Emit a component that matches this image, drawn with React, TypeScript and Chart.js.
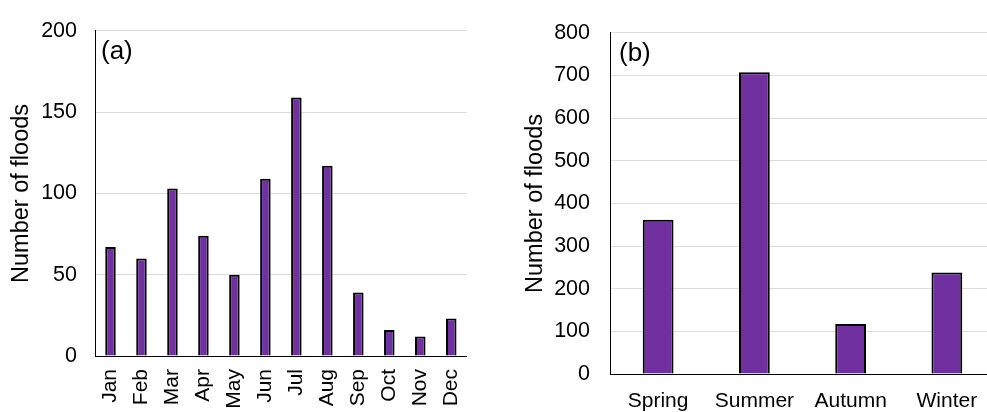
import React, { useEffect, useRef } from "react";
import { Chart, registerables } from "chart.js";

Chart.register(...registerables);

// Monthly flood counts, panel (a)
const months = ["Jan", "Feb", "Mar", "Apr", "May", "Jun", "Jul", "Aug", "Sep", "Oct", "Nov", "Dec"];
const monthlyFloods = [67, 60, 103, 74, 50, 109, 159, 117, 39, 16, 12, 23];
const monthlyAxisMax = 200;
const monthlyAxisStep = 50;

// Seasonal flood counts, panel (b)
const seasons = ["Spring", "Summer", "Autumn", "Winter"];
const seasonalFloods = [362, 708, 117, 238];
const seasonalAxisMax = 800;
const seasonalAxisStep = 100;

const yTitle = "Number of floods";

const FONT = '"Liberation Sans", Arial, Helvetica, sans-serif';
const BAR_FILL = "#7030A0";
const GRID = "#dcdcdc";

// Draws the "(a)" / "(b)" tag inside the top-left of the plot area
const panelLabel = {
  id: "panelLabel",
  afterDraw(chart: any, _args: any, opts: any) {
    const { ctx, chartArea } = chart;
    ctx.save();
    ctx.font = `${opts.size}px ${FONT}`;
    ctx.fillStyle = "#000";
    ctx.textAlign = "left";
    ctx.textBaseline = "middle";
    ctx.fillText(opts.text, chartArea.left + opts.dx, chartArea.top + opts.dy);
    ctx.restore();
  },
};

type PanelSpec = {
  labels: string[];
  values: number[];
  max: number;
  step: number;
  tag: string;
  tagDx: number;
  padding: { left: number; right: number; top: number; bottom: number };
  yWidth: number;
  xHeight: number;
  yTickPad: number;
  xTickPad: number;
  rotate: boolean;
  barPct: number;
};

function makeChart(canvas: HTMLCanvasElement, p: PanelSpec) {
  return new Chart(canvas, {
    type: "bar",
    data: {
      labels: p.labels,
      datasets: [
        {
          data: p.values,
          backgroundColor: BAR_FILL,
          borderColor: "#000",
          borderWidth: 2,
          barPercentage: p.barPct,
          categoryPercentage: 1,
        },
      ],
    },
    plugins: [panelLabel],
    options: {
      responsive: false,
      animation: false,
      devicePixelRatio: 1,
      layout: { padding: p.padding },
      plugins: {
        legend: { display: false },
        tooltip: { enabled: false },
        panelLabel: { text: p.tag, size: 26, dx: p.tagDx, dy: 21 },
      } as any,
      scales: {
        x: {
          grid: { display: false, drawTicks: false },
          border: { display: true, color: "#000", width: 1 },
          ticks: {
            color: "#000",
            font: { family: FONT, size: 21 },
            padding: p.xTickPad,
            autoSkip: false,
            maxRotation: p.rotate ? 90 : 0,
            minRotation: p.rotate ? 90 : 0,
          },
          afterFit(scale: any) {
            scale.height = p.xHeight;
          },
        },
        y: {
          min: 0,
          max: p.max,
          grid: {
            drawTicks: false,
            color: (c: any) => (c.tick && c.tick.value === 0 ? "rgba(0,0,0,0)" : GRID),
            lineWidth: 1,
          },
          border: { display: true, color: "#000", width: 1 },
          ticks: {
            stepSize: p.step,
            color: "#000",
            font: { family: FONT, size: 21.5 },
            padding: p.yTickPad,
          },
          title: {
            display: true,
            text: yTitle,
            color: "#000",
            font: { family: FONT, size: 23.5 },
            padding: 0,
          },
          afterFit(scale: any) {
            scale.width = p.yWidth;
          },
        },
      },
    } as any,
  });
}

export default function App() {
  const leftRef = useRef<HTMLCanvasElement>(null);
  const rightRef = useRef<HTMLCanvasElement>(null);

  useEffect(() => {
    const a = makeChart(leftRef.current!, {
      labels: months,
      values: monthlyFloods,
      max: monthlyAxisMax,
      step: monthlyAxisStep,
      tag: "(a)",
      tagDx: 6,
      padding: { left: 7, right: 13, top: 20, bottom: 0 },
      yWidth: 88,
      xHeight: 56,
      yTickPad: 18,
      xTickPad: 13,
      rotate: true,
      barPct: 0.34,
    });
    const b = makeChart(rightRef.current!, {
      labels: seasons,
      values: seasonalFloods,
      max: seasonalAxisMax,
      step: seasonalAxisStep,
      tag: "(b)",
      tagDx: 9,
      padding: { left: 31, right: 0, top: 20, bottom: 0 },
      yWidth: 89,
      xHeight: 38,
      yTickPad: 20,
      xTickPad: 15,
      rotate: false,
      barPct: 0.32,
    });
    return () => {
      a.destroy();
      b.destroy();
    };
  }, []);

  return (
    <div
      style={{
        position: "absolute",
        left: 0,
        top: 0,
        width: 987,
        height: 412,
        overflow: "hidden",
        background: "#fff",
      }}
    >
      <canvas
        ref={leftRef}
        width={490}
        height={412}
        style={{ position: "absolute", left: 0, top: 0, width: 490, height: 412 }}
      />
      <canvas
        ref={rightRef}
        width={505}
        height={412}
        style={{ position: "absolute", left: 490, top: 0, width: 505, height: 412 }}
      />
    </div>
  );
}
